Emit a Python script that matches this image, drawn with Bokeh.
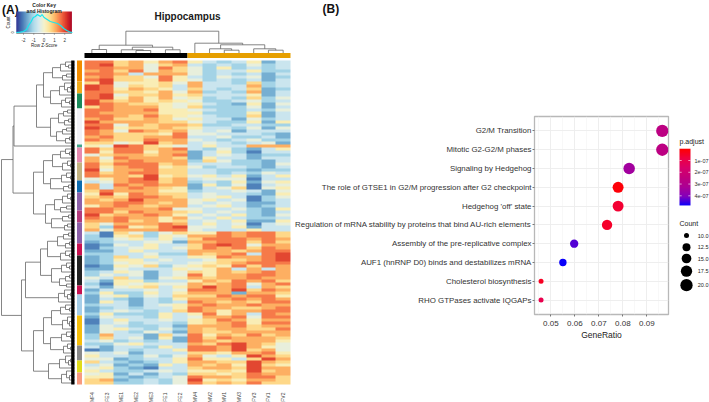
import numpy as np
from bokeh.core.properties import value
from bokeh.embed import file_html
from bokeh.layouts import column, row
from bokeh.models import ColumnDataSource, FactorRange, FixedTicker, LinearColorMapper, Range1d
from bokeh.plotting import figure
from bokeh.resources import INLINE

SAMPLES = ["MF4","FE3","ME1","ME2","ME3","FE1","FE2","MV4","MV2","MV1","MV3","FV3","FV1","FV2"]
# one string per gene row, one digit per sample: 0 = most blue ... 9 = most red
HEAT = """88675785323513 89674673232423 88774864252323 78684764233522 88737774232313 78664853243412 89665854232313
69455647332623 98465637333723 98576536323612 88665747232713 89466756333513 89575745232624 97675654223423
98766545321514 68777546222413 88778554322324 87777555222513 88768654322613 78667645331423 97777664322515
88476776223322 98566765332414 87487674341333 87666584433321 78667783342231 87668774323422 66459673432341
54986543533777
86886783242135 85885771352033 46776781343122 74877761533133 75787772642213 86888673332214 85788564233213
94778663322122 86788663323243 87769564535135 45789673444033 34788672325145 73878771524034 73787651346045
68777552334314 59587663433215 67688763453024 76797774534023 77887674343113 57876773453123 88777844334215
88687765343213 96778753435214 87877574353223 77867563435115 64777873534034 62856894435133 74777884333533
30642465587886 20562547787886 22453536888787 12334417788686 01435336898477 02345346878687 11353337776788
22334227678389 12635335587789 12553433466789 12454334567888 01546245658687 11433354573737 23541346576787
24341348577887 43631457677877 31552335768786 20545447678478 31456357978376 13334348879687 25225357771776
14524366687885 13213257778787 15313238767688 23313457877877 12323358776678 13432368757788
25222535857387 14332534778488 03533435687577 03423325678588 14322317778677 14532427677668 14324317667777
27331638576867 26341518687776 34232318767775 22453337689764 31332538879754 01323358879674 43413336657785
53324247435976 44123358553697 63212357766976 34121537675965 45210336776977 53223435565967 45131326656877
55212348776886 67123249565776 66223248676866""".split()

BAR_COLORS = ["#F28C00","#F0AB1C","#1A8A5A","#F1F1F6","#3FA58A","#E58AB0","#C2B280","#0C6BB0","#8B5FA8","#B23A7A",
              "#8B5FA8","#C8104F","#222222","#C8104F","#A6CEE8","#F5BE0A","#888888","#DFDC1A","#F79A80"]
BAR_ROWS = [7,4,5,12,1,5,6,4,6,4,7,4,10,3,7,10,5,4,4]

HEAT_STOPS = ["#313695","#4575b4","#74add1","#abd9e9","#d8ebf0","#f7f3c8","#fee090","#fdae61","#f46d43","#d73027","#a50026"]

# dendrograms: [merge height, left, right]; 0 = a leaf; a tuple = a chain of merges
TOP_TREE = [21.8,[7.8,[3.5,0,0],[5.8,[3.2,0,[2.5,0,0]],[3.2,0,0]]],[9.8,0,[8.2,[4.2,0,[2.8,0,0]],[4.2,0,[2.8,0,0]]]]]
A1 = [31,[22,(14,9,6),(12,8)],[24,(15,10,7,4),(13,9,5)]]
A2 = [24,[16,(11,7),(10,6)],[18,(12,8),(9,5)]]
B1 = [31,[22,(14,9,5),(12,7,4)],[24,(13,8,4),(11,6)]]
B2 = [29,[20,(12,7,4),(14,8)],[23,(12,6),(10,7)]]
L1 = [49,[34,[27,[17,(11,6),(9,5)],(14,9,5)],[23,(13,8,5),[15,(9,5),(8,)]]],(16,10,7,4)]
L2 = [41,[31,[23,(14,9,5),(12,7,5,3)],[24,(13,8,4),(11,7,4)]],[26,(15,9,6,4),(13,8,5,3)]]
ROW_TREE = [73,[61.5,[60.5,[38,A1,A2],0],[41,B1,B2]],[53,L1,L2]]

HIST_Z = [-2.7,-2.3,-2.0,-1.7,-1.5,-1.25,-1.05,-.85,-.65,-.5,-.35,-.2,0,.3,.6,.95,1.3,1.6,1.9,2.2,2.45,2.75]
HIST_N = [0,.3,1,3,7,11,15,16,18,17,16,18,15,13,11,10,9,7,4,2,.7,0]
KEY_TICKS = [-2,-1,0,1,2]

TERMS = ["G2/M Transition","Mitotic G2-G2/M phases","Signaling by Hedgehog",
         "The role of GTSE1 in G2/M progression after G2 checkpoint","Hedgehog 'off' state",
         "Regulation of mRNA stability by proteins that bind AU-rich elements",
         "Assembly of the pre-replicative complex","AUF1 (hnRNP D0) binds and destabilizes mRNA",
         "Cholesterol biosynthesis","RHO GTPases activate IQGAPs"]
RATIO = [.0964,.0964,.0826,.0780,.0780,.0734,.0597,.0550,.0459,.0459]
COUNT = [21,21,18,17,17,16,13,12,10,10]
PADJ = [2.6e-7,2.6e-7,3.4e-7,0.1e-7,0.6e-7,0.5e-7,4.3e-7,4.75e-7,0.4e-7,1.0e-7]
LEGEND_COUNT = [10,12.5,15,17.5,20]
LEGEND_LABEL = ["10.0","12.5","15.0","17.5","20.0"]
LEGEND_SIZE = [5,8,9.7,11.3,12.3]
PADJ_TICKS = [1e-7,2e-7,3e-7,4e-7]
PADJ_LABELS = ["1e-07","2e-07","3e-07","4e-07"]
PADJ_STOPS = ["#FF0000","#EE0044","#D9006A","#C1007C","#AB0095","#8300BC","#0000FF"]
PADJ_LOW, PADJ_HIGH = 0.0, 4.82e-7

FONT = value("Liberation Sans")

def ramp(stops, n=256):
    rgb = np.array([[int(s[i:i+2],16) for i in (1,3,5)] for s in stops], float)
    t = np.linspace(0,1,n); k = np.linspace(0,1,len(stops))
    out = np.column_stack([np.interp(t,k,rgb[:,c]) for c in range(3)]).round().astype(int)
    return ["#%02x%02x%02x" % tuple(c) for c in out]

def chain(t, i=0):
    if i >= len(t):
        return 0
    sub = chain(t, i+1)
    return [t[i], 0, sub] if i % 2 else [t[i], sub, 0]

def layout_tree(node):
    segs = []; nxt = [0.0]
    def walk(n):
        if isinstance(n, tuple):
            n = chain(n)
        if n == 0:
            nxt[0] += 1
            return nxt[0]-0.5, 0.0
        pa, ha = walk(n[1]); pb, hb = walk(n[2])
        segs.append(([pa,pa,pb,pb],[ha,n[0],n[0],hb]))
        return (pa+pb)/2, n[0]
    walk(node)
    return segs

Z_LOW, Z_HIGH = -2.7, 2.7
levels = np.array([[int(c) for c in r] for r in HEAT], float)
heat = (levels*0.82+1.25)*0.54-2.7
heat_map = LinearColorMapper(palette=ramp(HEAT_STOPS), low=Z_LOW, high=Z_HIGH)
n_rows, n_cols = heat.shape

# ---------------- panel A
PX_COL, PX_ROW = 206/14, 3
WA, H = 292, 402
a = figure(width=WA, height=H, output_backend="svg", toolbar_location=None, min_border=0, frame_align=False,
           x_axis_location=None, y_axis_location=None, outline_line_color=None,
           x_range=Range1d(-84/PX_COL, (WA-84)/PX_COL), y_range=Range1d((H-60)/PX_ROW, -60/PX_ROW))
a.grid.visible = False
a.extra_x_ranges["tree"] = Range1d(74, 74-WA)
a.extra_y_ranges["toptree"] = Range1d(52.5-H, 52.5)
a.extra_x_ranges["keyx"] = Range1d(-43.6/10.3, (WA-43.6)/10.3)
a.extra_y_ranges["keyy"] = Range1d(32-H, 32)

a.image(image=[heat], x=0, y=0, dw=n_cols, dh=n_rows, color_mapper=heat_map)

# side colour bar
ends = np.cumsum(BAR_ROWS)
a.quad(left=-2.5, right=-7.5, top=ends-np.array(BAR_ROWS), bottom=ends, fill_color=BAR_COLORS, line_color=None, x_range_name="tree")
# top group bar
a.quad(left=[0,7], right=[7,14], bottom=[-5,-5], top=[0,0], fill_color=["#000000","#E69F00"], line_color=None, y_range_name="toptree")

# dendrograms
segs = layout_tree(TOP_TREE)
a.multi_line(xs=[s[0] for s in segs], ys=[s[1] for s in segs], line_color="#666666", line_width=0.8, y_range_name="toptree")
segs = layout_tree(ROW_TREE)
a.multi_line(xs=[s[1] for s in segs], ys=[s[0] for s in segs], line_color="#666666", line_width=0.8, x_range_name="tree")
a.quad(left=3.3, right=0, top=0, bottom=n_rows, fill_color="#000000", line_color=None, x_range_name="tree")

# sample labels
a.text(x=np.arange(n_cols)+0.5, y=[112.2]*n_cols, text=SAMPLES, angle=np.pi/2, text_align="center", text_baseline="middle",
       text_font=FONT, text_font_size="5px", text_color="#444444")
a.text(x=[n_cols/2], y=[-14.7], text=["Hippocampus"], text_align="center", text_baseline="middle",
       text_font=FONT, text_font_size="10px", text_font_style="bold", text_color="#1a1a1a")
a.text(x=[-5.6], y=[-17], text=["(A)"], text_align="left", text_baseline="middle",
       text_font=FONT, text_font_size="12px", text_font_style="bold", text_color="#111111")

# colour key
key = np.linspace(Z_LOW, Z_HIGH, 256).reshape(1,-1)
a.image(image=[key], x=Z_LOW, y=0, dw=Z_HIGH-Z_LOW, dh=21, color_mapper=heat_map, x_range_name="keyx", y_range_name="keyy")
a.line(HIST_Z, HIST_N, line_color="#19E6EE", line_width=1.2, x_range_name="keyx", y_range_name="keyy")
a.segment(x0=KEY_TICKS, x1=KEY_TICKS, y0=[-1]*5, y1=[-2.2]*5, line_color="#333333", line_width=0.5, x_range_name="keyx", y_range_name="keyy")
a.segment(x0=[Z_LOW], x1=[Z_HIGH], y0=[-1], y1=[-1], line_color="#333333", line_width=0.5, x_range_name="keyx", y_range_name="keyy")
a.text(x=KEY_TICKS, y=[-7]*5, text=[str(t) for t in KEY_TICKS], text_align="center", text_baseline="middle",
       text_font=FONT, text_font_size="4.5px", text_color="#333333", x_range_name="keyx", y_range_name="keyy")
key_text = dict(text_align="center", text_baseline="middle", text_font=FONT, text_color="#222222", x_range_name="keyx", y_range_name="keyy")
a.text(x=[0], y=[28], text=["Color Key"], text_font_size="5px", text_font_style="bold", **key_text)
a.text(x=[0], y=[22], text=["and Histogram"], text_font_size="5px", text_font_style="bold", **key_text)
a.text(x=[0], y=[-13], text=["Row Z-Score"], text_font_size="4.5px", **key_text)
a.text(x=[-3.45], y=[10], text=["Count"], angle=np.pi/2, text_font_size="4.5px", **key_text)
a.text(x=[-3.05], y=[0], text=["0"], angle=np.pi/2, text_font_size="4px", **key_text)

# ---------------- panel B heading
HEAD_H = 20
d = figure(width=378, height=HEAD_H, output_backend="svg", toolbar_location=None, min_border=0, frame_align=False,
           x_axis_location=None, y_axis_location=None, outline_line_color=None,
           x_range=Range1d(WA, WA+378), y_range=Range1d(HEAD_H, 0))
d.grid.visible = False
d.text(x=[322], y=[8], text=["(B)"], text_align="left", text_baseline="middle", text_font=FONT,
       text_font_size="12px", text_font_style="bold", text_color="#111111")

# ---------------- panel B
order = TERMS[::-1]
b = figure(width=378, height=H-HEAD_H, output_backend="svg", toolbar_location=None, frame_align=False,
           x_range=Range1d(0.04317, 0.0990), y_range=FactorRange(*order, range_padding=0.27, range_padding_units="absolute"),
           min_border_left=242, min_border_right=2, min_border_top=116-HEAD_H, min_border_bottom=88,
           outline_line_color="#b8b8b8", outline_line_width=1.3)
b.xaxis.ticker = FixedTicker(ticks=[.05,.06,.07,.08,.09], minor_ticks=[.045,.055,.065,.075,.085,.095])
b.xaxis.major_label_overrides = {.05:"0.05",.06:"0.06",.07:"0.07",.08:"0.08",.09:"0.09"}
b.xaxis.axis_label = "GeneRatio"
b.xaxis.axis_label_text_font = "Liberation Sans"
b.xaxis.axis_label_text_font_size = "8.5px"
b.xaxis.axis_label_text_font_style = "normal"
b.xaxis.axis_label_text_color = "#222222"
b.xaxis.axis_label_standoff = 1
b.xaxis.major_label_standoff = 2
b.yaxis.major_label_standoff = 1
b.axis.major_label_text_font = "Liberation Sans"
b.xaxis.major_label_text_font_size = "8px"
b.yaxis.major_label_text_font_size = "7.9px"
b.axis.major_label_text_color = "#333333"
b.axis.axis_line_color = None
b.axis.major_tick_line_color = "#444444"
b.axis.major_tick_line_width = 0.7
b.axis.major_tick_in = 0
b.axis.major_tick_out = 2
b.axis.minor_tick_line_color = None
b.xgrid.grid_line_color = "#ececec"
b.xgrid.grid_line_width = 0.9
b.xgrid.minor_grid_line_color = "#f4f4f4"
b.xgrid.minor_grid_line_width = 0.6
b.ygrid.grid_line_color = "#ececec"
b.ygrid.grid_line_width = 0.9
padj_map = LinearColorMapper(palette=ramp(PADJ_STOPS), low=PADJ_LOW, high=PADJ_HIGH)
src = ColumnDataSource(dict(term=TERMS, ratio=RATIO, padj=PADJ, size=np.interp(COUNT, LEGEND_COUNT, LEGEND_SIZE)))
b.scatter(x="ratio", y="term", size="size", source=src, line_color=None, fill_color={"field":"padj","transform":padj_map})

# ---------------- legends
c = figure(width=39, height=H, output_backend="svg", toolbar_location=None, min_border=0, frame_align=False,
           x_axis_location=None, y_axis_location=None, outline_line_color=None,
           x_range=Range1d(670, 709), y_range=Range1d(H, 0))
c.grid.visible = False
c.extra_y_ranges["padj"] = Range1d(1e-7*(1+(H-160)/11.77), 1e-7*(1-160/11.77))
LEG_TXT = dict(text_font=FONT, text_baseline="middle", text_align="left")
c.text(x=[679], y=[223], text=["Count"], text_font_size="7px", text_color="#222222", **LEG_TXT)
leg_y = [235, 246.7, 258, 270.7, 284.7]
c.scatter(x=[686]*5, y=leg_y, size=LEGEND_SIZE, fill_color="#000000", line_color=None)
c.text(x=[697.3]*5, y=leg_y, text=LEGEND_LABEL, text_font_size="5.5px", text_color="#222222", **LEG_TXT)
c.text(x=[679], y=[141], text=["p.adjust"], text_font_size="7px", text_color="#222222", **LEG_TXT)
bar = np.linspace(PADJ_LOW, PADJ_HIGH, 256).reshape(-1,1)
c.image(image=[bar], x=679, y=PADJ_LOW, dw=11, dh=PADJ_HIGH-PADJ_LOW, color_mapper=padj_map, y_range_name="padj")
c.segment(x0=[679]*4, x1=[681.2]*4, y0=PADJ_TICKS, y1=PADJ_TICKS, line_color="#ffffff", line_width=0.6, y_range_name="padj")
c.segment(x0=[687.8]*4, x1=[690]*4, y0=PADJ_TICKS, y1=PADJ_TICKS, line_color="#ffffff", line_width=0.6, y_range_name="padj")
c.text(x=[694]*4, y=PADJ_TICKS, text=PADJ_LABELS, text_font_size="5.5px", text_color="#333333", y_range_name="padj", **LEG_TXT)

page = row(a, column(d, b, spacing=0), c, spacing=0)
open("out.html", "w").write(file_html(page, INLINE))
